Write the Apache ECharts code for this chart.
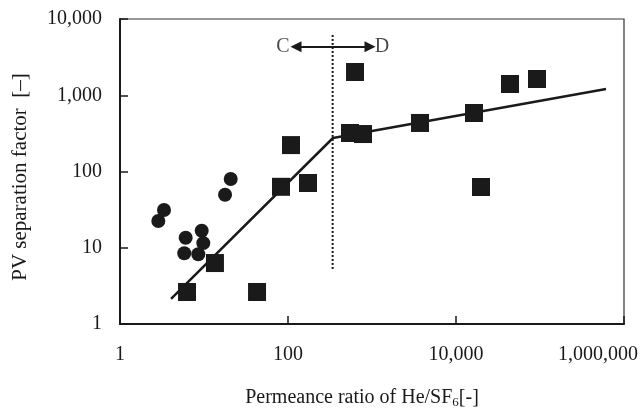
<!DOCTYPE html>
<html>
<head>
<meta charset="utf-8">
<script src="https://cdn.jsdelivr.net/npm/echarts@6/dist/echarts.min.js"></script>
<style>
  html, body { margin: 0; padding: 0; background: #fff; }
  #chart { width: 642px; height: 412px; }
</style>
</head>
<body>
<div id="chart"></div>
<script>
// permeance ratio He/SF6 (x) vs PV separation factor (y)
const circleX = [20.8, 17.8, 3.34, 2.86, 6.05, 9.39, 9.81, 5.82, 8.55]
const circleY = [79.7, 49.6, 31.3, 22.4, 13.5, 16.7, 11.5, 8.46, 8.2]

const squareX = [6.28, 13.5, 42.8, 82.6, 108.6, 173, 628, 547, 781, 3728, 16370, 19850, 43950, 92100]
const squareY = [2.63, 6.3, 2.63, 63, 222, 70.7, 2018, 320, 310, 433, 585, 62.6, 1405, 1633]

// trend line (two segments) and C/D boundary
const fitX = [4.05, 343, 611000]
const fitY = [2.13, 275, 1208]
const boundaryX = [340, 340]
const boundaryY = [5.27, 6550]
const arrowX = [124.5, 947]
const arrowY = 4330
const regionNames = ['C', 'D']
const regionX = [87, 1315]

const xTicks = [1, 100, 10000, 1000000]
const yTicks = [1, 10, 100, 1000, 10000]

const font = '"Liberation Serif", "Times New Roman", serif'
const ink = '#1a1a1a'

const zip = (xs, ys) => xs.map((x, i) => [x, ys[i]])

const chart = echarts.init(document.getElementById('chart'))

const option = {
  animation: false,
  grid: {
    left: 120,
    right: 18,
    top: 19,
    bottom: 88,
    outerBoundsMode: 'none',
    containLabel: false,
    show: true,
    borderColor: '#333',
    borderWidth: 1.2
  },
  xAxis: {
    type: 'log',
    logBase: 10,
    min: 1,
    max: 1000000,
    axisLine: { lineStyle: { color: ink, width: 2 } },
    axisTick: { show: true, inside: true, length: 8, lineStyle: { color: ink, width: 1.5 }, customValues: xTicks },
    axisLabel: {
      customValues: xTicks,
      margin: 21,
      fontFamily: font,
      fontSize: 20,
      color: ink,
      // last label is pulled left to stay inside the page, like the original
      formatter: v => v >= 1000000 ? '{last|' + Number(v).toLocaleString('en-US') + '}' : Number(v).toLocaleString('en-US'),
      rich: {
        last: { fontFamily: font, fontSize: 20, color: ink, padding: [0, 52, 0, 0] }
      }
    },
    splitLine: { show: false },
    minorTick: { show: false }
  },
  yAxis: {
    type: 'log',
    logBase: 10,
    min: 1,
    max: 10000,
    axisLine: { show: true, lineStyle: { color: ink, width: 2 } },
    axisTick: { show: true, inside: true, length: 8, lineStyle: { color: ink, width: 1.5 }, customValues: yTicks },
    axisLabel: {
      customValues: yTicks,
      margin: 18,
      fontFamily: font,
      fontSize: 20,
      color: ink,
      formatter: v => Number(v).toLocaleString('en-US')
    },
    splitLine: { show: false }
  },
  graphic: [
    {
      type: 'text',
      x: 20,
      y: 177,
      rotation: Math.PI / 2,
      style: {
        text: 'PV separation factor  [–]',
        font: '21px ' + font,
        fill: ink,
        align: 'center',
        verticalAlign: 'middle'
      }
    },
    {
      type: 'text',
      x: 362,
      y: 398,
      style: {
        text: '{a|Permeance ratio of He/SF}{s|6}{a|[-]}',
        rich: {
          a: { fontFamily: font, fontSize: 20, fill: ink, color: ink },
          s: { fontFamily: font, fontSize: 13, fill: ink, color: ink, padding: [9, 0, 0, 0] }
        },
        align: 'center',
        verticalAlign: 'middle'
      }
    }
  ],
  series: [
    {
      type: 'line',
      name: 'boundary',
      data: zip(boundaryX, boundaryY),
      symbol: 'none',
      lineStyle: { color: ink, width: 2, type: [2, 2] },
      z: 1
    },
    {
      type: 'line',
      name: 'trend',
      data: zip(fitX, fitY),
      symbol: 'none',
      lineStyle: { color: ink, width: 2.5 },
      z: 2
    },
    {
      type: 'lines',
      coordinateSystem: 'cartesian2d',
      symbol: ['triangle', 'triangle'],
      symbolSize: [11, 11],
      lineStyle: { color: ink, width: 2, opacity: 1 },
      data: [{ coords: [[arrowX[0], arrowY], [arrowX[1], arrowY]] }],
      z: 3
    },
    {
      type: 'scatter',
      name: 'region',
      symbolSize: 0,
      data: regionX.map((x, i) => ({ value: [x, arrowY], name: regionNames[i] })),
      label: {
        show: true,
        position: 'inside',
        formatter: p => p.name,
        fontFamily: font,
        fontSize: 20,
        color: ink
      },
      z: 3
    },
    {
      type: 'scatter',
      name: 'circles',
      symbol: 'circle',
      symbolSize: 14,
      itemStyle: { color: ink, opacity: 1 },
      data: zip(circleX, circleY),
      z: 4
    },
    {
      type: 'scatter',
      name: 'squares',
      symbol: 'rect',
      symbolSize: 18,
      itemStyle: { color: ink, opacity: 1 },
      data: zip(squareX, squareY),
      z: 5
    }
  ]
}

chart.setOption(option)
</script>
</body>
</html>
